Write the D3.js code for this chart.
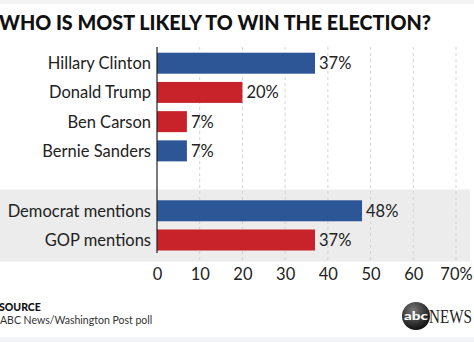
<!DOCTYPE html>
<html><head><meta charset="utf-8">
<script src="https://cdn.jsdelivr.net/npm/d3@7"></script>
<style>
html,body{margin:0;padding:0;background:#fff;}
svg{display:block;}
</style></head>
<body>
<script>
const categories = ["Hillary Clinton","Donald Trump","Ben Carson","Bernie Sanders","Democrat mentions","GOP mentions"];
const values = [37,20,7,7,48,37];
const parties = ["D","R","R","D","D","R"];
const tickValues = [0,10,20,30,40,50,60,70];
const tickLabels = ["0","10","20","30","40","50","60","70%"];

const W=474,H=342;
const svg=d3.select("body").append("svg").attr("width",W).attr("height",H);
const font="Lato, 'Open Sans', sans-serif";
const color={D:"#2c5696",R:"#c8232b"};

// top faint strip
svg.append("rect").attr("x",0).attr("y",0).attr("width",W).attr("height",4).attr("fill","#f4f4f4");

svg.append("text").attr("x",-1).attr("y",30).text("WHO IS MOST LIKELY TO WIN THE ELECTION?")
  .attr("font-family",font).attr("font-weight",900).attr("font-size",20.5).attr("fill","#111")
  .attr("textLength",432).attr("lengthAdjust","spacingAndGlyphs");

const x=d3.scaleLinear().domain([0,70]).range([157,456]);
const slots=[0,1,2,3,5.05,6.05];
const y=d3.scaleLinear().domain([0,6.05]).range([52.7,229.5]);
const bh=21;
const fs=16.5;

// gray band
svg.append("rect").attr("x",0).attr("y",189.5).attr("width",470).attr("height",72).attr("fill","#ececec");

// gridlines
svg.append("g").selectAll("line").data(tickValues.slice(1)).join("line")
  .attr("x1",d=>x(d)).attr("x2",d=>x(d)).attr("y1",47).attr("y2",262)
  .attr("stroke","#d4d4d4").attr("stroke-width",1).attr("stroke-dasharray","3,3");

// bars
const g=svg.append("g");
g.selectAll("rect").data(values).join("rect")
  .attr("x",x(0)).attr("y",(d,i)=>y(slots[i]))
  .attr("width",d=>x(d)-x(0)).attr("height",bh)
  .attr("fill",(d,i)=>color[parties[i]]);

g.selectAll("text.lab").data(categories).join("text").attr("class","lab")
  .attr("x",151).attr("y",(d,i)=>y(slots[i])+bh/2+6).attr("text-anchor","end")
  .attr("font-family",font).attr("font-size",fs).attr("fill","#222").text(d=>d);

g.selectAll("text.val").data(values).join("text").attr("class","val")
  .attr("x",d=>x(d)+4).attr("y",(d,i)=>y(slots[i])+bh/2+6)
  .attr("font-family",font).attr("font-size",fs).attr("fill","#222").text(d=>d+"%");

// axis line
svg.append("line").attr("x1",x(0)).attr("x2",x(0)).attr("y1",47).attr("y2",253)
  .attr("stroke","#222").attr("stroke-width",1.2);

// axis tick labels
const axis=d3.axisBottom(x).tickValues(tickValues).tickFormat((d,i)=>tickLabels[i]).tickSize(0).tickPadding(0);
const ag=svg.append("g").attr("transform","translate(0,265)").call(axis);
ag.select(".domain").remove();
ag.selectAll("text").attr("font-family",font).attr("font-size",fs).attr("fill","#222").attr("dy","0.9em");

// source
svg.append("text").attr("x",-1).attr("y",311).text("SOURCE").attr("font-family",font)
  .attr("font-weight",900).attr("font-size",10.5).attr("fill","#111");
svg.append("text").attr("x",0).attr("y",323.5).text("ABC News/Washington Post poll").attr("font-family",font)
  .attr("font-size",10.5).attr("fill","#333");

// bottom strip
svg.append("rect").attr("x",0).attr("y",337).attr("width",W).attr("height",5).attr("fill","#f2f4f7");

// logo
const lg=svg.append("g");
const grad=svg.append("defs").append("radialGradient").attr("id","lg").attr("cx","40%").attr("cy","30%").attr("r","70%");
grad.append("stop").attr("offset","0%").attr("stop-color","#777");
grad.append("stop").attr("offset","100%").attr("stop-color","#111");
lg.append("circle").attr("cx",416).attr("cy",316).attr("r",14).attr("fill","url(#lg)");
lg.append("text").attr("x",416).attr("y",320).attr("text-anchor","middle").text("abc")
  .attr("font-family",font).attr("font-weight",900).attr("font-size",12).attr("fill","#fff")
  .attr("textLength",24).attr("lengthAdjust","spacingAndGlyphs");
lg.append("text").attr("transform","translate(429,323) scale(0.84,1)").text("NEWS")
  .attr("font-family","'Liberation Serif', serif").attr("font-size",18).attr("fill","#222");
</script>
</body></html>
